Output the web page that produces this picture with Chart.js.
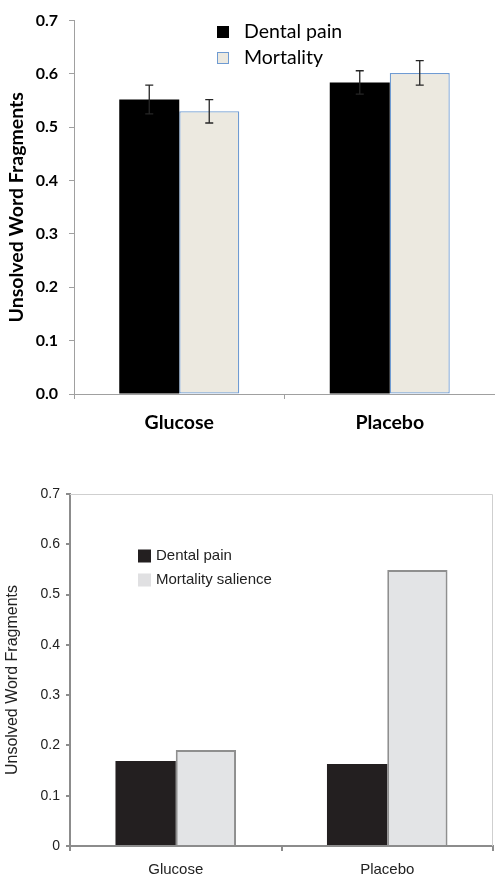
<!DOCTYPE html>
<html>
<head>
<meta charset="utf-8">
<script src="https://cdn.jsdelivr.net/npm/chart.js@4"></script>
<style>
  html, body { margin: 0; padding: 0; background: #fff; }
  .panel { position: absolute; left: 0; width: 495px; }
  #top { top: 0; height: 450px; }
  #bottom { top: 450px; height: 431px; }
</style>
</head>
<body>
<div class="panel" id="top"><canvas id="chartTop"></canvas></div>
<div class="panel" id="bottom"><canvas id="chartBottom"></canvas></div>
<script>
// Data
const categories = ['Glucose', 'Placebo'];
const yTickValues = [0, 0.1, 0.2, 0.3, 0.4, 0.5, 0.6, 0.7];

// Upper panel (with error bars)
const topDental = [0.552, 0.584];
const topDentalErr = [0.027, 0.022];
const topMortality = [0.530, 0.602];
const topMortalityErr = [0.022, 0.023];

// Lower panel
const bottomDental = [0.169, 0.163];
const bottomMortality = [0.191, 0.549];

// Error bars drawn from dataset.errors
const errorBarsPlugin = {
    id: 'errorBars',
    afterDatasetsDraw(chart) {
        const ctx = chart.ctx;
        const y = chart.scales.y;
        chart.data.datasets.forEach((ds, i) => {
            if (!ds.errors) return;
            const meta = chart.getDatasetMeta(i);
            meta.data.forEach((bar, j) => {
                const v = ds.data[j];
                const e = ds.errors[j];
                const yTop = y.getPixelForValue(v + e);
                const yBot = y.getPixelForValue(v - e);
                ctx.save();
                ctx.strokeStyle = '#262626';
                ctx.lineWidth = 1.3;
                ctx.beginPath();
                ctx.moveTo(bar.x, yTop);
                ctx.lineTo(bar.x, yBot);
                ctx.moveTo(bar.x - 4, yTop);
                ctx.lineTo(bar.x + 4, yTop);
                ctx.moveTo(bar.x - 4, yBot);
                ctx.lineTo(bar.x + 4, yBot);
                ctx.stroke();
                ctx.restore();
            });
        });
    }
};

// Legend drawn inside the plot
function makeLegend(items, font, box) {
    return {
        id: 'boxLegend',
        afterDraw(chart) {
            const ctx = chart.ctx;
            ctx.save();
            ctx.font = font;
            ctx.textBaseline = 'middle';
            ctx.textAlign = 'left';
            items.forEach(it => {
                ctx.fillStyle = it.fill;
                ctx.fillRect(box.x, it.y - box.size / 2, box.size, box.size);
                if (it.stroke) {
                    ctx.strokeStyle = it.stroke;
                    ctx.lineWidth = 1;
                    ctx.strokeRect(box.x + 0.5, it.y - box.size / 2 + 0.5, box.size - 1, box.size - 1);
                }
                ctx.fillStyle = box.textColor;
                ctx.fillText(it.text, box.textX, it.y);
            });
            ctx.restore();
        }
    };
}

// Rotated y title for the lower panel
function makeYTitle(text, x, y, font, color) {
    return {
        id: 'yTitle',
        afterDraw(chart) {
            const ctx = chart.ctx;
            ctx.save();
            ctx.translate(x, y);
            ctx.rotate(-Math.PI / 2);
            ctx.font = font;
            ctx.fillStyle = color;
            ctx.textAlign = 'center';
            ctx.textBaseline = 'middle';
            ctx.fillText(text, 0, 0);
            ctx.restore();
        }
    };
}

// Light frame on top and right of the lower plot
const framePlugin = {
    id: 'frame',
    afterDraw(chart) {
        const { ctx, chartArea: a } = chart;
        ctx.save();
        ctx.strokeStyle = '#cfcfcf';
        ctx.lineWidth = 1;
        ctx.beginPath();
        ctx.moveTo(a.left, a.top + 0.5);
        ctx.lineTo(a.right - 0.5, a.top + 0.5);
        ctx.lineTo(a.right - 0.5, a.bottom);
        ctx.stroke();
        ctx.restore();
    }
};

function setTicks(scale) {
    scale.ticks = yTickValues.map(v => ({ value: v }));
}

// Upper chart
new Chart(document.getElementById('chartTop').getContext('2d'), {
    type: 'bar',
    data: {
        labels: categories,
        datasets: [
            {
                label: 'Dental pain',
                data: topDental,
                errors: topDentalErr,
                backgroundColor: '#000000',
                borderWidth: 0,
                barPercentage: 1.0,
                categoryPercentage: 0.57
            },
            {
                label: 'Mortality',
                data: topMortality,
                errors: topMortalityErr,
                backgroundColor: '#ECE9E0',
                borderColor: '#6F9BD2',
                borderWidth: 1.3,
                borderSkipped: false,
                barPercentage: 1.0,
                categoryPercentage: 0.57
            }
        ]
    },
    options: {
        responsive: true,
        maintainAspectRatio: false,
        animation: false,
        layout: { padding: { top: 17, right: 0, left: 0, bottom: 0 } },
        plugins: { legend: { display: false }, tooltip: { enabled: false } },
        scales: {
            x: {
                afterFit: s => { s.height = 56; },
                grid: { drawOnChartArea: false, offset: true, tickLength: 5, color: '#a0a0a0' },
                border: { color: '#a0a0a0' },
                ticks: {
                    color: '#000',
                    padding: 12,
                    font: { family: 'Lato', size: 19.5, weight: 'bold' }
                }
            },
            y: {
                min: 0,
                max: 0.7,
                afterFit: s => { s.width = 74; },
                afterBuildTicks: setTicks,
                grid: { drawOnChartArea: false, tickLength: 5, color: '#a0a0a0' },
                border: { color: '#a0a0a0' },
                ticks: {
                    color: '#000',
                    padding: 11,
                    font: { family: 'Lato', size: 16, weight: 'bold' },
                    callback: v => v.toFixed(1)
                },
                title: {
                    display: true,
                    text: 'Unsolved Word Fragments',
                    color: '#000',
                    padding: { top: 5, bottom: 0 },
                    font: { family: 'Lato', size: 19.5, weight: 'bold' }
                }
            }
        }
    },
    plugins: [
        errorBarsPlugin,
        makeLegend(
            [
                { text: 'Dental pain', fill: '#000000', y: 32 },
                { text: 'Mortality', fill: '#ECE9E0', stroke: '#6F9BD2', y: 58 }
            ],
            '19.5px Lato',
            { x: 217, size: 12, textX: 244, textColor: '#000' }
        )
    ]
});

// Lower chart
new Chart(document.getElementById('chartBottom').getContext('2d'), {
    type: 'bar',
    data: {
        labels: categories,
        datasets: [
            {
                label: 'Dental pain',
                data: bottomDental,
                backgroundColor: '#231F20',
                borderWidth: 0,
                barPercentage: 1.0,
                categoryPercentage: 0.57
            },
            {
                label: 'Mortality salience',
                data: bottomMortality,
                backgroundColor: '#E3E4E6',
                borderColor: '#8f8f8f',
                borderWidth: 2,
                borderSkipped: 'bottom',
                barPercentage: 1.0,
                categoryPercentage: 0.57
            }
        ]
    },
    options: {
        responsive: true,
        maintainAspectRatio: false,
        animation: false,
        layout: { padding: { top: 44, right: 2, left: 0, bottom: 0 } },
        plugins: { legend: { display: false }, tooltip: { enabled: false } },
        scales: {
            x: {
                afterFit: s => { s.height = 35; },
                grid: { drawOnChartArea: false, offset: true, tickLength: 5, color: '#8c8c8c', lineWidth: 2 },
                border: { color: '#8c8c8c', width: 2 },
                ticks: {
                    color: '#222',
                    padding: 10,
                    font: { family: 'Liberation Sans', size: 15 }
                }
            },
            y: {
                min: 0,
                max: 0.7,
                afterFit: s => { s.width = 70; },
                afterBuildTicks: setTicks,
                grid: { drawOnChartArea: false, tickLength: 4, color: '#8c8c8c', lineWidth: 2 },
                border: { color: '#8c8c8c', width: 2 },
                ticks: {
                    color: '#222',
                    padding: 6,
                    font: { family: 'Liberation Sans', size: 14 },
                    callback: v => (v === 0 ? '0' : v.toFixed(1))
                }
            }
        }
    },
    plugins: [
        framePlugin,
        makeYTitle('Unsolved Word Fragments', 13, 230, '16px "Liberation Sans"', '#222'),
        makeLegend(
            [
                { text: 'Dental pain', fill: '#231F20', y: 106 },
                { text: 'Mortality salience', fill: '#E0E0E2', y: 130 }
            ],
            '15px "Liberation Sans"',
            { x: 138, size: 13, textX: 156, textColor: '#222' }
        )
    ]
});
</script>
</body>
</html>
